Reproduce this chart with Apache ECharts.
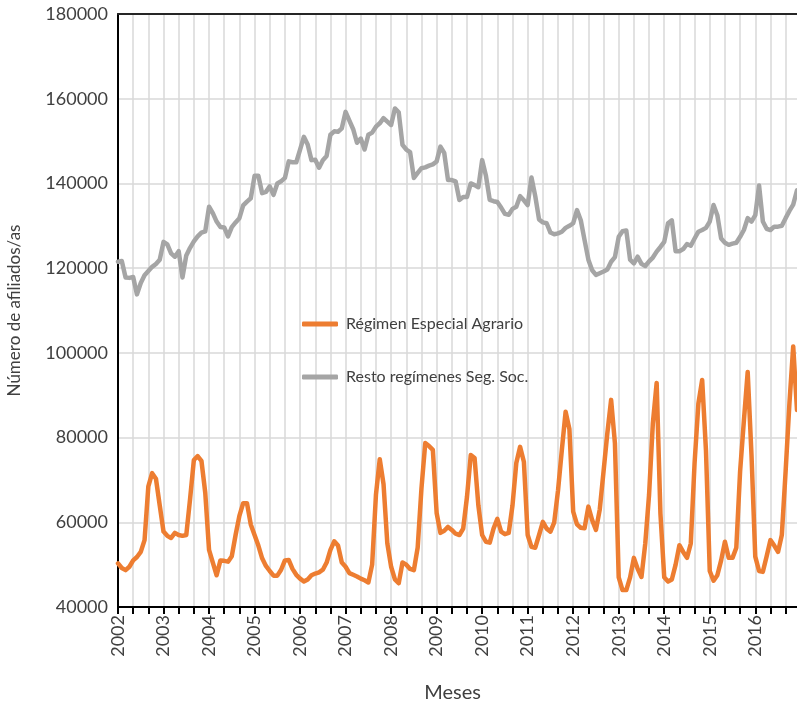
<!DOCTYPE html>
<html>
<head>
<meta charset="utf-8">
<script src="https://cdn.jsdelivr.net/npm/echarts@6/dist/echarts.min.js"></script>
<style>
  html, body { margin: 0; padding: 0; background: #fff; }
  #chart { width: 797px; height: 711px; }
</style>
</head>
<body>
<div id="chart"></div>
<script>
// años y meses del eje x
const years = [2002, 2003, 2004, 2005, 2006, 2007, 2008, 2009, 2010, 2011, 2012, 2013, 2014, 2015, 2016];
const months = ['01', '02', '03', '04', '05', '06', '07', '08', '09', '10', '11', '12'];

// Régimen Especial Agrario (mensual)
const agrario = [
  50300, 49200, 48700, 49500, 51000, 51800, 53000, 55800, 68500, 71600, 70300, 64000,
  57800, 56800, 56300, 57500, 57000, 56800, 57000, 65500, 74700, 75600, 74500, 67000,
  53500, 50500, 47500, 51000, 50900, 50700, 52000, 57000, 61500, 64500, 64500, 59500,
  57000, 54500, 51500, 49700, 48500, 47400, 47400, 48800, 51000, 51100, 49000, 47600,
  46700, 46000, 46500, 47500, 47900, 48200, 48800, 50500, 53500, 55500, 54500, 50500,
  49500, 48000, 47600, 47200, 46700, 46300, 45800, 50000, 66500, 74900, 69000, 55000,
  49500, 46500, 45600, 50500, 50000, 49000, 48700, 54000, 68000, 78700, 78000, 77100,
  62200, 57500, 58000, 58900, 58200, 57300, 57000, 58500, 66000, 75900, 75200, 64000,
  57000, 55400, 55200, 58500, 60800, 57800, 57200, 57500, 64000, 74000, 77800, 74300,
  57000, 54200, 54000, 57000, 60100, 58500, 57800, 60000, 67500, 77000, 86100, 82000,
  62500, 59500, 58700, 58600, 63700, 60500, 58200, 63000, 72000, 81000, 88900, 78700,
  47000, 44000, 44000, 47000, 51600, 49000, 47100, 55000, 66500, 83400, 92900, 62000,
  47000, 46000, 46500, 50000, 54600, 53000, 51600, 55000, 74000, 88000, 93600, 77000,
  48500, 46200, 47500, 51000, 55400, 51600, 51600, 54000, 72000, 84000, 95500, 76000,
  51900, 48500, 48300, 52000, 55800, 54500, 53000, 57000, 72000, 88000, 101500, 86500
];

// Resto regímenes Seg. Soc. (mensual)
const resto = [
  121500, 121700, 117800, 117700, 117900, 113800, 116500, 118300, 119300, 120300, 121000, 122000,
  126200, 125600, 123500, 122700, 124000, 117800, 123000, 124800, 126300, 127500, 128400, 128700,
  134500, 133000, 131000, 129700, 129600, 127500, 129700, 130800, 131800, 134800, 135700, 136500,
  141800, 141800, 137700, 138000, 139300, 137300, 140000, 140500, 141300, 145200, 145000, 145000,
  148000, 151000, 149200, 145500, 145600, 143700, 145500, 146500, 151500, 152300, 152200, 153000,
  156900, 154800, 152800, 149600, 150600, 148000, 151500, 152000, 153400, 154200, 155400, 154600,
  153800, 157700, 156800, 149100, 148000, 147400, 141300, 142500, 143600, 143800, 144200, 144500,
  145200, 148700, 147200, 140800, 140800, 140500, 136100, 136800, 136800, 140000, 139600, 139100,
  145500, 141800, 136100, 135800, 135600, 134300, 132800, 132600, 134000, 134500, 137000, 136000,
  134900, 141400, 137000, 131500, 130800, 130600, 128400, 128000, 128200, 128600, 129500, 130000,
  130600, 133700, 131300, 126600, 122000, 119500, 118400, 118800, 119200, 119700, 121500, 122600,
  127400, 128700, 128900, 122000, 121100, 122700, 121000, 120500, 121600, 122500, 123900, 125000,
  126200, 130600, 131300, 124000, 124000, 124500, 125700, 125300, 127000, 128600, 129000, 129500,
  131000, 134900, 132500, 127000, 126000, 125500, 125800, 126000, 127400, 129000, 131800, 131000,
  132500, 139500, 131000, 129300, 129000, 129800, 129800, 130000, 131800, 133500, 135000, 138400
];

const meses = [];
years.forEach(y => months.forEach(m => meses.push(y + '-' + m)));

const txt = '#404040';
const font = 'Lato, "Noto Sans", sans-serif';

const chart = echarts.init(document.getElementById('chart'));
chart.setOption({
  animation: false,
  textStyle: { fontFamily: font },
  grid: { left: 118, right: 0, top: 14, bottom: 104, outerBoundsMode: 'none', containLabel: false },
  legend: {
    orient: 'vertical',
    left: 297, top: 311,
    itemGap: 37,
    itemWidth: 36, itemHeight: 5,
    icon: 'roundRect',
    textStyle: { color: txt, fontSize: 16, fontFamily: font, padding: [0, 0, 0, 3] },
    data: ['Régimen Especial Agrario', 'Resto regímenes Seg. Soc.']
  },
  xAxis: [{
    type: 'category',
    data: meses,
    boundaryGap: false,
    name: 'Meses',
    nameLocation: 'middle',
    nameGap: 76,
    nameTextStyle: { color: txt, fontSize: 20, fontFamily: font, padding: [0, 10, 0, 0] },
    axisLine: { lineStyle: { color: '#000', width: 2 } },
    axisTick: { interval: 3, length: 7, lineStyle: { color: '#000', width: 2 } },
    axisLabel: {
      interval: 11, rotate: 90, color: txt, fontSize: 18, margin: 8,
      formatter: v => v.slice(0, 4)
    },
    splitLine: { show: true, interval: 3, lineStyle: { color: '#d9d9d9', width: 1.5 } }
  }, {
    type: 'category',
    data: meses,
    position: 'top',
    boundaryGap: false,
    axisLine: { lineStyle: { color: '#262626', width: 2 } },
    axisTick: { show: false },
    axisLabel: { show: false },
    splitLine: { show: false }
  }],
  yAxis: {
    type: 'value',
    min: 40000, max: 180000, interval: 20000,
    name: 'Número de afiliados/as',
    nameLocation: 'middle',
    nameGap: 95,
    nameTextStyle: { color: txt, fontSize: 17, fontFamily: font },
    axisLine: { show: true, lineStyle: { color: '#000', width: 2 } },
    axisTick: { show: false },
    axisLabel: { color: txt, fontSize: 18, margin: 10, formatter: v => String(v) },
    splitLine: { lineStyle: { color: '#d9d9d9', width: 1.5 } }
  },
  series: [{
    name: 'Régimen Especial Agrario',
    type: 'line',
    data: agrario,
    showSymbol: false,
    color: '#ED7D31',
    lineStyle: { width: 4.5, color: '#ED7D31', cap: 'round', join: 'round' }
  }, {
    name: 'Resto regímenes Seg. Soc.',
    type: 'line',
    data: resto,
    showSymbol: false,
    color: '#A5A5A5',
    lineStyle: { width: 4.5, color: '#A5A5A5', cap: 'round', join: 'round' }
  }]
});
</script>
</body>
</html>
